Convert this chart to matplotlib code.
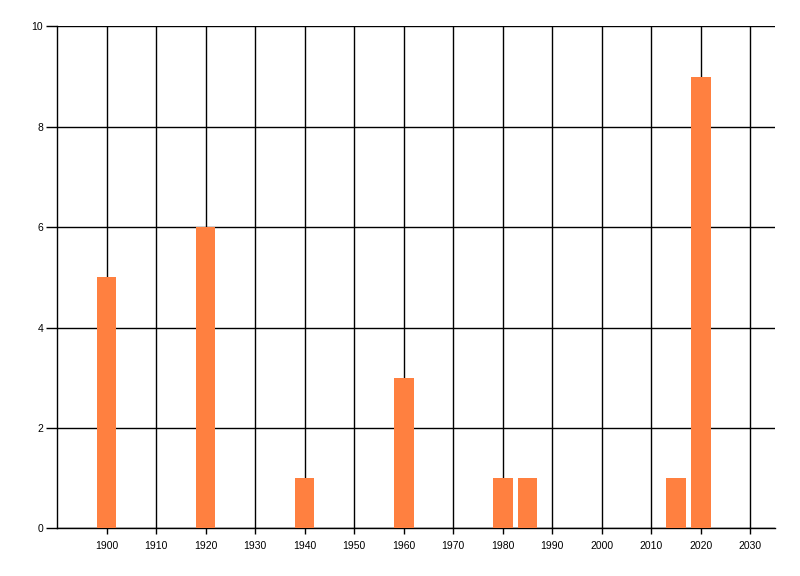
import matplotlib
matplotlib.use("Agg")
import matplotlib.pyplot as plt

plt.rcParams['font.family'] = ['Liberation Sans', 'DejaVu Sans']

years = [1900, 1920, 1940, 1960, 1980, 1985, 2015, 2020]
counts = [5, 6, 1, 3, 1, 1, 1, 9]
xticks = list(range(1900, 2031, 10))
yticks = [0, 2, 4, 6, 8, 10]

fig = plt.figure(figsize=(8, 5.76), dpi=100)
ax = fig.add_axes([0.07125, 0.0828, 0.8975, 0.8715])
ax.set_axisbelow(True)
ax.bar(years, counts, width=4.0, color='#FF8040', zorder=3)
ax.set_xlim(1890, 2035)
ax.set_ylim(0, 10)
ax.set_xticks(xticks)
ax.set_yticks(yticks)
ax.grid(True, color='black', linewidth=1.0)
for s in ['top', 'right']:
    ax.spines[s].set_visible(False)
for s in ['left', 'bottom']:
    ax.spines[s].set_linewidth(1.0)
    ax.spines[s].set_color('black')
ax.tick_params(axis='y', length=8, width=1, labelsize=7.5, pad=2)
ax.tick_params(axis='x', length=4, width=1, labelsize=7.5, pad=5)
fig.savefig("out.png", dpi=100)
